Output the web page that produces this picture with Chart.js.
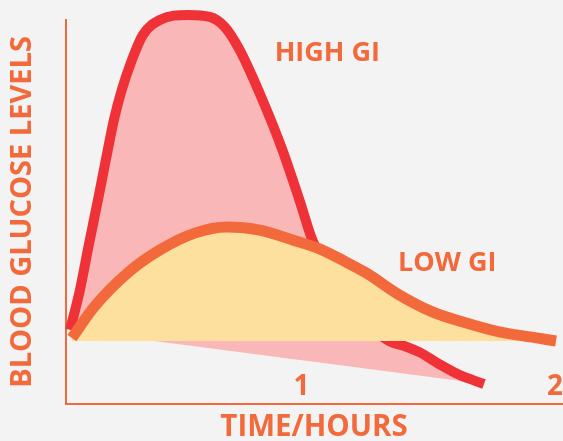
<!DOCTYPE html>
<html><head><meta charset="utf-8">
<script src="https://cdn.jsdelivr.net/npm/chart.js@4.4.1/dist/chart.umd.min.js"></script>
<style>html,body{margin:0;padding:0;background:#f3f3f3;overflow:hidden}#wrap{width:563px;height:441px}</style>
</head><body><div id="wrap"><canvas id="c"></canvas></div>
<script>
// Time in hours, blood glucose in relative units (0-100 scale)
const highGiTime  = [0.087,0.126,0.157,0.197,0.228,0.260,0.291,0.331,0.374,0.441,0.551,0.638,0.697,0.756,0.846,0.925,0.992,1.043,1.150,1.248,1.346,1.406,1.465,1.543,1.622,1.720];
const highGiLevel = [19.3,29.7,40.1,53.1,63.5,74.0,81.8,89.6,96.1,100.0,101.3,100.8,98.2,92.2,79.2,66.1,53.1,42.7,29.7,21.4,16.4,15.1,13.5,10.4,7.6,5.2];
const lowGiTime   = [0.094,0.185,0.319,0.449,0.579,0.705,0.835,0.965,1.071,1.169,1.256,1.386,1.516,1.650,1.780,1.909,2.004];
const lowGiLevel  = [17.2,25.5,34.4,40.4,44.5,46.1,45.3,42.7,40.4,37.2,34.1,28.4,24.0,21.1,18.8,17.4,16.4];
const fastingLevel = 16.4;
const xTickHours = [1, 2];
const curveLabels = ['HIGH GI', 'LOW GI'];
const curveLabelTime = [1.102, 1.575];
const curveLabelLevel = [89.3, 34.6];

const AX = '#f26a3b';
const FONT = 'Open Sans';

const pts = (xs, ys) => xs.map((x, i) => ({x, y: ys[i]}));
const highPts = pts(highGiTime, highGiLevel);
const closePts = [highPts[0], highPts[highPts.length - 1]];

const labelPlugin = {
  id: 'curveLabels',
  afterDatasetsDraw(chart) {
    const {ctx, scales: {x, y}} = chart;
    ctx.save();
    ctx.fillStyle = AX;
    ctx.font = 'bold 27px "' + FONT + '"';
    ctx.textAlign = 'center';
    ctx.textBaseline = 'alphabetic';
    curveLabels.forEach((t, i) => {
      ctx.fillText(t, x.getPixelForValue(curveLabelTime[i]), y.getPixelForValue(curveLabelLevel[i]));
    });
    ctx.restore();
  }
};

new Chart(document.getElementById('c'), {
  type: 'line',
  data: {
    datasets: [
      {
        label: 'LOW GI',
        data: pts(lowGiTime, lowGiLevel),
        borderColor: '#f26a3b',
        borderWidth: 11,
        pointRadius: 0,
        cubicInterpolationMode: 'monotone',
        borderJoinStyle: 'round',
        fill: {target: {value: fastingLevel}, above: '#fee09e', below: 'rgba(0,0,0,0)'},
        clip: false
      },
      {
        label: 'HIGH GI',
        data: highPts,
        borderColor: '#ef3237',
        backgroundColor: '#f9b8b7',
        borderWidth: 10,
        pointRadius: 0,
        cubicInterpolationMode: 'monotone',
        borderJoinStyle: 'round',
        fill: '+1',
        clip: false
      },
      {
        label: 'close',
        data: closePts,
        borderColor: 'rgba(0,0,0,0)',
        borderWidth: 1,
        pointRadius: 0,
        fill: false
      }
    ]
  },
  options: {
    responsive: true,
    maintainAspectRatio: false,
    animation: false,
    layout: {padding: {top: 20, right: 0, bottom: 0, left: 0}},
    plugins: {legend: {display: false}, tooltip: {enabled: false}},
    scales: {
      x: {
        type: 'linear',
        min: 0.071,
        max: 2.028,
        grid: {display: false, drawTicks: false},
        border: {display: true, color: AX, width: 2},
        ticks: {color: AX, font: {family: FONT, size: 28, weight: 'bold'}, mirror: true, padding: 0, maxRotation: 0, autoSkip: false},
        afterBuildTicks: s => { s.ticks = xTickHours.map(v => ({value: v})); },
        afterFit: s => { s.height = 37; },
        title: {display: true, text: 'TIME/HOURS', color: AX, font: {family: FONT, size: 29.5, weight: 'bold'}, padding: {top: 0, bottom: -4}}
      },
      y: {
        min: 0,
        max: 100,
        grid: {display: false, drawTicks: false},
        border: {display: true, color: AX, width: 2},
        ticks: {display: false},
        afterFit: s => { s.width = 66; },
        title: {display: true, text: 'BLOOD GLUCOSE LEVELS', color: AX, font: {family: FONT, size: 29, weight: 'bold'}, padding: {top: 5, bottom: 0}}
      }
    }
  },
  plugins: [labelPlugin]
});
</script>
</body></html>
